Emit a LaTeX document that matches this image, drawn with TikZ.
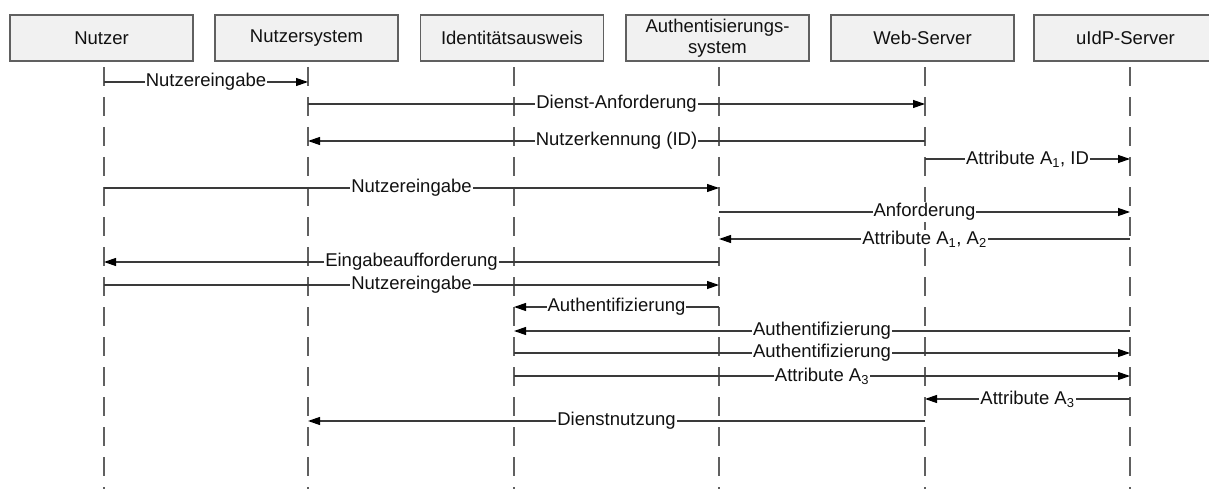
\documentclass[tikz,border=0pt]{standalone}
\usepackage{fontspec}
\setmainfont{Liberation Sans}
\usetikzlibrary{arrows.meta}
\definecolor{boxfill}{HTML}{F1F1F1}
\definecolor{boxline}{HTML}{606060}
\definecolor{lifegray}{HTML}{606060}
\definecolor{msggray}{HTML}{3A3A3A}
\definecolor{txt}{HTML}{111111}
\begin{document}
\begin{tikzpicture}[x=1pt,y=-1pt,
  actor/.style={draw=boxline, fill=boxfill, line width=1.2pt, minimum width=183pt, minimum height=46pt, inner sep=0pt, align=center, font=\fontsize{18.5}{21}\selectfont, text=txt},
  life/.style={draw=lifegray, line width=1.2pt, dash pattern=on 19pt off 11pt},
  msg/.style={draw=msggray, line width=1.2pt, -{Triangle[length=12pt,width=8pt,color=black]}},
  lbl/.style={fill=white, inner sep=1pt, font=\fontsize{18.5}{20}\selectfont, text=txt}]
\useasboundingbox (0,0) rectangle (1209,489);
% actors
\node[actor] (nutzer) at (101.5,38) {Nutzer};
\node[actor] (nsys) at (306.5,38) {Nutzersystem};
\node[actor] (ident) at (512,38) {Identitätsausweis};
\node[actor] (auth) at (717.5,38) {Authentisierungs-\\system};
\node[actor] (web) at (922.5,38) {Web-Server};
\node[actor] (uidp) at (1125.5,38) {uIdP-Server};
% lifelines
\coordinate (lA) at (104,67); \coordinate (lAe) at (104,489);
\coordinate (lB) at (308,67); \coordinate (lBe) at (308,489);
\coordinate (lC) at (514,67); \coordinate (lCe) at (514,489);
\coordinate (lD) at (719,67); \coordinate (lDe) at (719,489);
\coordinate (lE) at (925,67); \coordinate (lEe) at (925,489);
\coordinate (lF) at (1130,67); \coordinate (lFe) at (1130,489);
\foreach \s in {A,B,C,D,E,F} { \draw[life] (l\s) -- (l\s e); }
% messages
\draw[msg] (lA |- 0,82) -- node[lbl]{Nutzereingabe} (lB |- 0,82);
\draw[msg] (lB |- 0,104) -- node[lbl]{Dienst-Anforderung} (lE |- 0,104);
\draw[msg] (lE |- 0,141) -- node[lbl]{Nutzerkennung (ID)} (lB |- 0,141);
\draw[msg] (lE |- 0,159) -- node[lbl]{Attribute A\textsubscript{1}, ID} (lF |- 0,159);
\draw[msg] (lA |- 0,188) -- node[lbl]{Nutzereingabe} (lD |- 0,188);
\draw[msg] (lD |- 0,212) -- node[lbl]{Anforderung} (lF |- 0,212);
\draw[msg] (lF |- 0,239) -- node[lbl]{Attribute A\textsubscript{1}, A\textsubscript{2}} (lD |- 0,239);
\draw[msg] (lD |- 0,262) -- node[lbl]{Eingabeaufforderung} (lA |- 0,262);
\draw[msg] (lA |- 0,285) -- node[lbl]{Nutzereingabe} (lD |- 0,285);
\draw[msg] (lD |- 0,307) -- node[lbl]{Authentifizierung} (lC |- 0,307);
\draw[msg] (lF |- 0,331) -- node[lbl]{Authentifizierung} (lC |- 0,331);
\draw[msg] (lC |- 0,353) -- node[lbl]{Authentifizierung} (lF |- 0,353);
\draw[msg] (lC |- 0,376) -- node[lbl]{Attribute A\textsubscript{3}} (lF |- 0,376);
\draw[msg] (lF |- 0,399) -- node[lbl]{Attribute A\textsubscript{3}} (lE |- 0,399);
\draw[msg] (lE |- 0,421) -- node[lbl]{Dienstnutzung} (lB |- 0,421);
\end{tikzpicture}
\end{document}
